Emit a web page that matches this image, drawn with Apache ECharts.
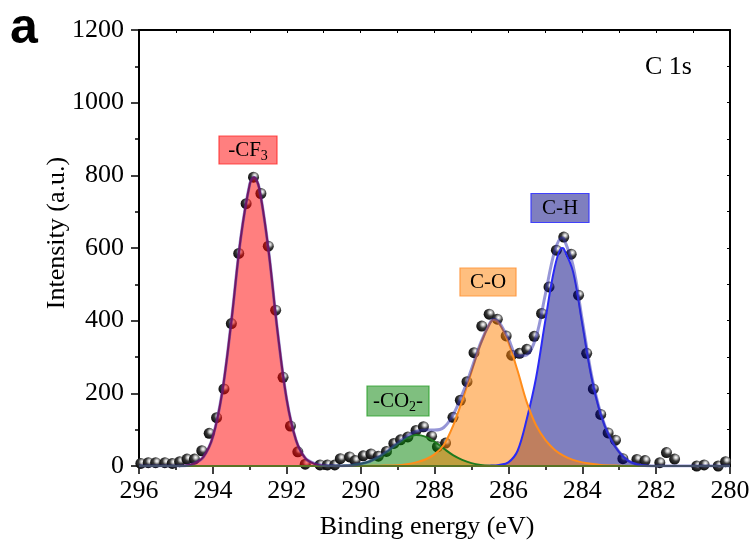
<!DOCTYPE html>
<html><head><meta charset="utf-8">
<script src="https://cdn.jsdelivr.net/npm/echarts@6/dist/echarts.min.js"></script>
<style>html,body{margin:0;padding:0;background:#fff}#c{width:756px;height:547px}</style>
</head><body><div id="c"></div>
<script>
// ---- axis ticks ----
const xTickValues = [296, 294, 292, 290, 288, 286, 284, 282, 280];
const yTickValues = [0, 200, 400, 600, 800, 1000, 1200];

// ---- measured points (Binding energy eV, Intensity a.u.) ----
const dotEnergy = [295.95, 295.75, 295.55, 295.3, 295.1, 294.9, 294.7, 294.5, 294.3, 294.1, 293.9, 293.7, 293.5, 293.3, 293.1, 292.9, 292.7, 292.5, 292.3, 292.1, 291.9, 291.7, 291.5, 291.1, 290.9, 290.7, 290.55, 290.3, 290.15, 289.93, 289.72, 289.52, 289.3, 289.1, 288.92, 288.72, 288.5, 288.3, 288.08, 287.92, 287.7, 287.5, 287.3, 287.12, 286.93, 286.72, 286.52, 286.3, 286.06, 285.91, 285.7, 285.5, 285.3, 285.1, 284.9, 284.7, 284.5, 284.3, 284.1, 283.88, 283.7, 283.5, 283.3, 283.1, 282.9, 282.52, 282.3, 281.9, 281.72, 281.5, 280.9, 280.7, 280.32, 280.12];
const dotIntensity = [7, 9, 9, 9, 7, 12, 19, 19, 42, 90, 133, 212, 392, 585, 722, 795, 750, 605, 429, 244, 110, 39, 5, 3, 3, 3, 20, 25, 15, 28, 33, 27, 40, 62, 72, 80, 98, 108, 82, 53, 63, 134, 181, 232, 312, 385, 418, 404, 358, 305, 310, 321, 357, 420, 493, 594, 630, 583, 470, 310, 212, 142, 91, 71, 20, 18, 15, 9, 37, 19, 0, 3, 0, 12];

// ---- fitted components ----
const cf3Energy = [296, 295, 294.75, 294.5, 294.25, 294, 293.75, 293.5, 293.25, 293, 292.89, 292.75, 292.5, 292.25, 292, 291.75, 291.5, 291.25, 291, 290.5, 280];
const cf3Intensity = [0, 0, 1, 7, 26, 81, 202, 399, 625, 777, 795, 767, 600, 372, 183, 72, 22, 6, 1, 0, 0];

const co2Energy = [296, 291, 290.5, 290.25, 290, 289.75, 289.5, 289.25, 289, 288.75, 288.5, 288.25, 288, 287.75, 287.5, 287.25, 287, 286.75, 286.5, 286, 280];
const co2Intensity = [0, 0, 1, 2, 6, 13, 25, 42, 61, 77, 85, 81, 67, 48, 30, 17, 8, 3, 1, 0, 0];

const coEnergy = [296, 290, 289.5, 289, 288.75, 288.5, 288.25, 288, 287.75, 287.5, 287.25, 287, 286.75, 286.5, 286.4, 286.25, 286, 285.75, 285.5, 285.25, 285, 284.75, 284.5, 284.25, 284, 283.75, 283.5, 283, 282.5, 280];
const coIntensity = [0, 0, 1, 2, 5, 10, 18, 32, 58, 110, 180, 258, 336, 393, 402, 392, 340, 262, 175, 112, 72, 45, 28, 17, 10, 6, 3, 1, 0, 0];

const chEnergy = [296, 287, 286.5, 286.25, 286, 285.75, 285.5, 285.25, 285, 284.75, 284.55, 284.5, 284.25, 284, 283.75, 283.5, 283.25, 283, 282.75, 282.5, 282.25, 282, 280];
const chIntensity = [0, 0, 1, 3, 10, 42, 130, 243, 400, 545, 600, 598, 535, 392, 245, 142, 78, 38, 14, 4, 1, 0, 0];

const envEnergy = [296, 295, 294.75, 294.5, 294.25, 294, 293.75, 293.5, 293.25, 293, 292.89, 292.75, 292.5, 292.25, 292, 291.75, 291.5, 291.25, 291, 290.5, 290.25, 290, 289.75, 289.5, 289.25, 289, 288.75, 288.5, 288.25, 288, 287.75, 287.5, 287.25, 287, 286.75, 286.5, 286.4, 286.25, 286, 285.75, 285.5, 285.25, 285, 284.75, 284.55, 284.5, 284.25, 284, 283.75, 283.5, 283.25, 283, 282.75, 282.5, 282.25, 282, 280];
const envIntensity = [0, 0, 1, 7, 26, 81, 202, 399, 625, 777, 795, 767, 600, 372, 183, 72, 22, 7, 2, 1, 2, 6, 13, 26, 43, 63, 82, 95, 99, 99, 106, 140, 197, 266, 339, 394, 404, 395, 350, 303, 306, 355, 472, 590, 628, 626, 552, 402, 251, 145, 79, 39, 14, 4, 1, 0, 0];

const baselineEnergy = [296, 280];
const baselineIntensity = [0, 0];

const pairs = (E, I) => E.map((e, i) => [e, I[i]]);

const SERIF = "'Liberation Serif','Times New Roman',serif";
const chart = echarts.init(document.getElementById('c'), null, {renderer: 'canvas'});

const G = {left: 139, right: 26, top: 30, bottom: 81};

const sphere = {
  type: 'radial', x: 0.62, y: 0.35, r: 0.75,
  colorStops: [
    {offset: 0, color: '#ffffff'},
    {offset: 0.18, color: '#c8c8c8'},
    {offset: 0.45, color: '#3a3a3a'},
    {offset: 1, color: '#000000'}
  ]
};

function comp(name, E, I, line, fill) {
  return {
    type: 'line', name, data: pairs(E, I), smooth: 0.35, symbol: 'none', z: 3,
    lineStyle: {color: line, width: 2}, areaStyle: {color: fill, opacity: 1}
  };
}

function boxLabel(cx, cy, w, h, fill, stroke, richText) {
  return [
    {type: 'rect', shape: {x: cx - w / 2, y: cy - h / 2, width: w, height: h}, style: {fill, stroke, lineWidth: 1.2}, z: 50},
    {type: 'text', x: cx, y: cy, z: 51, style: {
      text: richText, align: 'center', verticalAlign: 'middle',
      rich: {
        n: {fontFamily: SERIF, fontSize: 21, lineHeight: 26, color: '#000'},
        s: {fontFamily: SERIF, fontSize: 14, lineHeight: 8, verticalAlign: 'bottom', color: '#000'}
      }
    }}
  ];
}

const plain = v => String(v);

const option = {
  animation: false,
  backgroundColor: '#fff',
  grid: G,
  xAxis: [{
    type: 'value', min: xTickValues[xTickValues.length - 1], max: xTickValues[0], interval: 2, inverse: true,
    axisLine: {show: true, onZero: false, lineStyle: {color: '#000', width: 2}},
    axisTick: {show: true, inside: false, length: 8, lineStyle: {color: '#000', width: 1.5}},
    minorTick: {show: true, splitNumber: 2, length: 4, lineStyle: {color: '#000', width: 1.5}},
    axisLabel: {color: '#000', fontFamily: SERIF, fontSize: 26, margin: 12, formatter: plain},
    splitLine: {show: false}
  }, {
    type: 'value', position: 'top', min: 280, max: 296, interval: 2, inverse: true,
    axisLine: {show: true, onZero: false, lineStyle: {color: '#000', width: 2}},
    axisTick: {show: true, inside: true, length: 3, lineStyle: {color: '#000', width: 1}},
    minorTick: {show: true, splitNumber: 2, length: 3, lineStyle: {color: '#000', width: 1}},
    axisLabel: {show: false}, splitLine: {show: false}
  }],
  yAxis: [{
    type: 'value', min: yTickValues[0], max: yTickValues[yTickValues.length - 1], interval: 200,
    axisLine: {show: true, onZero: false, lineStyle: {color: '#000', width: 2}},
    axisTick: {show: true, inside: false, length: 8, lineStyle: {color: '#000', width: 1.5}},
    minorTick: {show: true, splitNumber: 2, length: 4, lineStyle: {color: '#000', width: 1.5}},
    axisLabel: {color: '#000', fontFamily: SERIF, fontSize: 26, margin: 15, formatter: plain},
    splitLine: {show: false}
  }, {
    type: 'value', position: 'right', min: 0, max: 1200, interval: 200,
    axisLine: {show: true, onZero: false, lineStyle: {color: '#000', width: 2}},
    axisTick: {show: true, inside: true, length: 3, lineStyle: {color: '#000', width: 1}},
    minorTick: {show: true, splitNumber: 2, length: 3, lineStyle: {color: '#000', width: 1}},
    axisLabel: {show: false}, splitLine: {show: false}
  }],
  series: [
    {type: 'scatter', name: 'data', data: pairs(dotEnergy, dotIntensity), symbol: 'circle', symbolSize: 11, z: 1,
     itemStyle: {color: sphere, opacity: 1}},
    comp('C-H', chEnergy, chIntensity, '#2a2af5', 'rgba(0,0,128,0.5)'),
    comp('-CO2-', co2Energy, co2Intensity, '#1e7a1e', 'rgba(0,128,0,0.5)'),
    comp('C-O', coEnergy, coIntensity, '#ff8c1a', 'rgba(255,128,0,0.5)'),
    comp('-CF3', cf3Energy, cf3Intensity, '#b3001b', 'rgba(255,0,0,0.5)'),
    {type: 'line', name: 'baseline', data: pairs(baselineEnergy, baselineIntensity), symbol: 'none', z: 4,
     lineStyle: {color: '#5a7325', width: 2}},
    {type: 'line', name: 'envelope', data: pairs(envEnergy, envIntensity), smooth: 0.35, symbol: 'none', z: 5,
     lineStyle: {color: 'rgba(45,45,175,0.5)', width: 3}}
  ],
  graphic: [
    {type: 'text', x: 10, y: 4, style: {text: 'a', fontFamily: "'Liberation Sans',Arial,sans-serif", fontWeight: 'bold', fontSize: 50, fill: '#000'}},
    {type: 'text', x: 645, y: 67, style: {text: 'C 1s', fontFamily: SERIF, fontSize: 26, fill: '#000', verticalAlign: 'middle'}},
    {type: 'text', x: 427, y: 527, style: {text: 'Binding energy (eV)', fontFamily: SERIF, fontSize: 26, fill: '#000', align: 'center', verticalAlign: 'middle'}},
    {type: 'text', x: 57, y: 233, rotation: Math.PI / 2, style: {text: 'Intensity (a.u.)', fontFamily: SERIF, fontSize: 26, fill: '#000', align: 'center', verticalAlign: 'middle'}},
    ...boxLabel(248, 150, 58, 28, 'rgba(255,0,0,0.5)', 'rgba(255,40,40,0.8)', '{n|-CF}{s|3}'),
    ...boxLabel(398, 401, 62, 30, 'rgba(0,128,0,0.5)', 'rgba(40,160,40,0.8)', '{n|-CO}{s|2}{n|-}'),
    ...boxLabel(488, 282, 56, 28, 'rgba(255,128,0,0.5)', 'rgba(255,150,60,0.9)', '{n|C-O}'),
    ...boxLabel(560, 208, 58, 29, 'rgba(0,0,128,0.5)', 'rgba(50,50,255,0.9)', '{n|C-H}')
  ]
};
chart.setOption(option);
</script>
</body></html>
